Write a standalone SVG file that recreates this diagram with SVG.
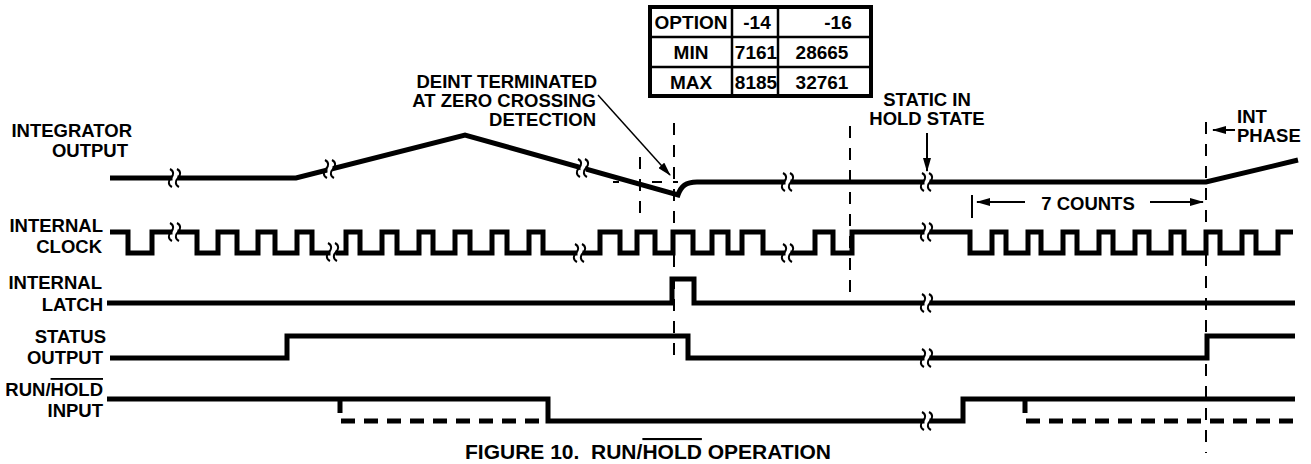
<svg xmlns="http://www.w3.org/2000/svg" xmlns:xlink="http://www.w3.org/1999/xlink" width="1311" height="464" viewBox="0 0 1311 464">
<style>
.sig{fill:none;stroke:#000;stroke-width:5;stroke-linejoin:miter;stroke-linecap:butt}
.dsig{fill:none;stroke:#000;stroke-width:5;stroke-dasharray:14 9}
.guide{fill:none;stroke:#000;stroke-width:2;stroke-dasharray:12 10}
.arr{fill:none;stroke:#000;stroke-width:2}
.thin{fill:none;stroke:#000;stroke-width:1.5}
.sq{fill:none;stroke:#000;stroke-width:2}
.lbl{font-family:"Liberation Sans",Arial,Helvetica,sans-serif;font-weight:bold;font-size:18.5px;fill:#000}
.tbl{font-family:"Liberation Sans",Arial,Helvetica,sans-serif;font-weight:bold;font-size:19px;fill:#000;text-anchor:middle}
.cap{font-family:"Liberation Sans",Arial,Helvetica,sans-serif;font-weight:bold;font-size:21px;fill:#000;white-space:pre}
.e{text-anchor:end}
.m{text-anchor:middle}
.ov{text-decoration:overline}
</style>
<defs>
<marker id="ah" markerUnits="userSpaceOnUse" viewBox="0 0 14 8" refX="13" refY="4" markerWidth="14" markerHeight="8" orient="auto">
<path d="M0,0 L14,4 L0,8 z" fill="#000"/>
</marker>
<g id="brk">
<rect x="-2.5" y="-4" width="5" height="8" fill="#fff"/>
<path class="sq" d="M-5,-9 C-1,-7 -1,-3 -4,0 C-7,3 -7,7 -3,9"/>
<path class="sq" d="M2,-9 C6,-7 6,-3 3,0 C0,3 0,7 4,9"/>
</g>
</defs>
<rect width="1311" height="464" fill="#fff"/>

<g id="labels">
<text class="lbl e" x="132" y="137">INTEGRATOR</text>
<text class="lbl e" x="128" y="157">OUTPUT</text>
<text class="lbl e" x="103" y="232">INTERNAL</text>
<text class="lbl e" x="102" y="253">CLOCK</text>
<text class="lbl e" x="102" y="289">INTERNAL</text>
<text class="lbl e" x="103" y="311">LATCH</text>
<text class="lbl e" x="106" y="343">STATUS</text>
<text class="lbl e" x="103" y="364">OUTPUT</text>
<text class="lbl e" x="103" y="396">RUN/<tspan class="ov">HOLD</tspan></text>
<text class="lbl e" x="103" y="417">INPUT</text>
</g>

<g id="option-table">
<rect x="650" y="7" width="221" height="89" fill="none" stroke="#000" stroke-width="4"/>
<line x1="732" y1="7" x2="732" y2="96" stroke="#000" stroke-width="2.5"/>
<line x1="778" y1="7" x2="778" y2="96" stroke="#000" stroke-width="2.5"/>
<line x1="650" y1="37" x2="871" y2="37" stroke="#000" stroke-width="2.5"/>
<line x1="650" y1="67" x2="871" y2="67" stroke="#000" stroke-width="2.5"/>
<text class="tbl" x="691" y="29">OPTION</text>
<text class="tbl" x="757" y="29">-14</text>
<text class="tbl" x="838" y="29">-16</text>
<text class="tbl" x="691" y="59">MIN</text>
<text class="tbl" x="756" y="59">7161</text>
<text class="tbl" x="822" y="59">28665</text>
<text class="tbl" x="691" y="89">MAX</text>
<text class="tbl" x="756" y="89">8185</text>
<text class="tbl" x="822" y="89">32761</text>
</g>

<g id="integrator-output">
<line class="guide" x1="613" y1="182" x2="678" y2="182" style="stroke-dasharray:6 33 10 11 5"/>
<path class="sig" d="M110,178 H296 L465,135 L678,195 C681,186 686,182 697,182 H1206 L1298,160"/>
<use xlink:href="#brk" x="175" y="178"/>
<use xlink:href="#brk" x="330" y="169"/>
<use xlink:href="#brk" x="583" y="168"/>
<use xlink:href="#brk" x="788" y="182"/>
<use xlink:href="#brk" x="927" y="182"/>
</g>

<g id="internal-clock">
<path class="sig" d="M110,232 H128 V253 H152 V232 H197 V253 H218 V232 H237 V253 H258 V232 H275 V253 H297 V232 H312 V253 H346 V232 H360 V253 H382 V232 H397 V253 H419 V232 H433 V253 H455 V232 H470 V253 H492 V232 H507 V253 H529 V232 H543 V253 H600 V232 H620 V253 H637 V232 H655 V253 H673 V232 H693 V253 H712 V232 H728 V253 H742 V232 H763 V253 H815 V232 H833 V253 H852 V232 H970 V253 H992 V232 H1006 V253 H1028 V232 H1041 V253 H1063 V232 H1077 V253 H1099 V232 H1113 V253 H1135 V232 H1149 V253 H1171 V232 H1184 V253 H1206 V232 H1220 V253 H1242 V232 H1256 V253 H1278 V232 H1293"/>
<use xlink:href="#brk" x="175" y="232"/>
<use xlink:href="#brk" x="333" y="252"/>
<use xlink:href="#brk" x="580" y="253"/>
<use xlink:href="#brk" x="788" y="253"/>
<use xlink:href="#brk" x="927" y="232"/>
</g>

<g id="internal-latch">
<path class="sig" d="M107,303 H672 V279 H694 V303 H1295"/>
<use xlink:href="#brk" x="927" y="303"/>
</g>

<g id="status-output">
<path class="sig" d="M110,358 H287 V336 H688 V358 H1207 V336 H1295"/>
<use xlink:href="#brk" x="927" y="358"/>
</g>

<g id="run-hold-input">
<path class="dsig" d="M340,399 V421 H548"/>
<path class="dsig" d="M1025,399 V421 H1295"/>
<path class="sig" d="M107,399 H548 V421 H963 V399 H1295"/>
<use xlink:href="#brk" x="927" y="421"/>
</g>

<g id="annotations">
<text class="lbl e" x="597" y="88">DEINT TERMINATED</text>
<text class="lbl e" x="596" y="107">AT ZERO CROSSING</text>
<text class="lbl e" x="596" y="126">DETECTION</text>
<text class="lbl m" x="927" y="105.5">STATIC IN</text>
<text class="lbl m" x="927" y="125">HOLD STATE</text>
<text class="lbl" x="1237" y="123">INT</text>
<text class="lbl" x="1237" y="142">PHASE</text>
<text class="lbl m" x="1088" y="210">7 COUNTS</text>
<text class="cap" x="465" y="459">FIGURE 10.  RUN/<tspan class="ov">HOLD</tspan> OPERATION</text>
</g>

<g id="connectors">
<line class="guide" x1="640" y1="157" x2="640" y2="222"/>
<line class="guide" x1="674" y1="123" x2="674" y2="360"/>
<line class="guide" x1="850" y1="126" x2="850" y2="292"/>
<line class="guide" x1="1206" y1="122" x2="1206" y2="453"/>
<line class="thin" x1="598" y1="95" x2="670" y2="175" marker-end="url(#ah)"/>
<line class="arr" x1="927" y1="133" x2="927" y2="171" marker-end="url(#ah)"/>
<line class="arr" x1="1235" y1="130" x2="1213" y2="130" marker-end="url(#ah)"/>
<line class="arr" x1="972" y1="195" x2="972" y2="218"/>
<line class="arr" x1="1025" y1="202" x2="977" y2="202" marker-end="url(#ah)"/>
<line class="arr" x1="1150" y1="202" x2="1203" y2="202" marker-end="url(#ah)"/>
</g>
</svg>
